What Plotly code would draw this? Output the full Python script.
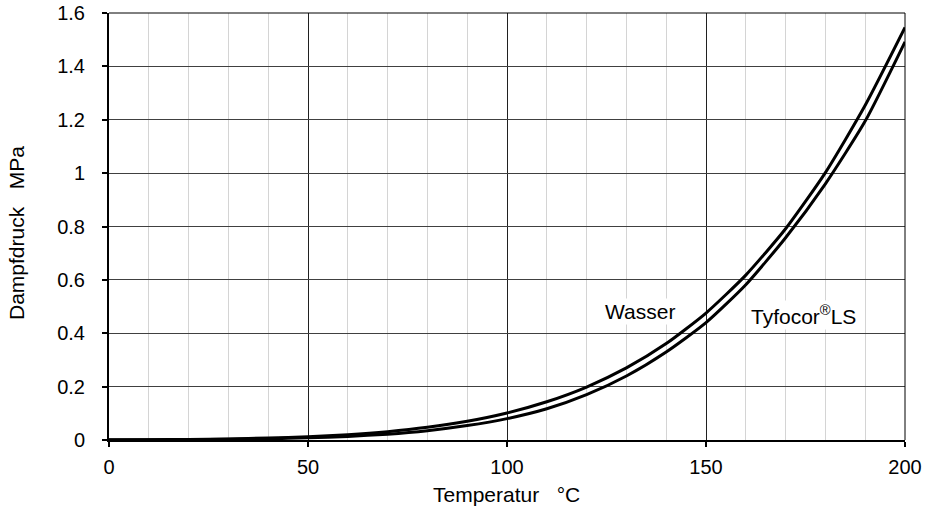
import plotly.graph_objects as go

temperatur = [0, 10, 20, 30, 40, 50, 60, 70, 80, 90, 100,
              110, 120, 130, 140, 150, 160, 170, 180, 190, 200]
wasser = [0.0006, 0.0012, 0.0023, 0.0042, 0.0074, 0.0124, 0.0200, 0.0312,
          0.0474, 0.0701, 0.1013, 0.1433, 0.1985, 0.2701, 0.3613, 0.4758,
          0.6178, 0.7917, 1.0021, 1.2544, 1.5460]
tyfocor = [0.0003, 0.0006, 0.0012, 0.0024, 0.0045, 0.0080, 0.0135, 0.0220,
           0.0350, 0.0540, 0.0800, 0.1170, 0.1700, 0.2400, 0.3300, 0.4400,
           0.5820, 0.7580, 0.9600, 1.1950, 1.4920]

x_ticks = [0, 50, 100, 150, 200]
y_ticks = [0, 0.2, 0.4, 0.6, 0.8, 1, 1.2, 1.4, 1.6]
y_ticklabels = ["0", "0.2", "0.4", "0.6", "0.8", "1", "1.2", "1.4", "1.6"]

FONT = "Liberation Sans, Arial, sans-serif"
W, H = 927, 510
ML, MR, MT, MB = 109, 22, 13, 70

fig = go.Figure()
fig.add_trace(go.Scatter(x=temperatur, y=wasser, mode="lines", name="Wasser",
                         line=dict(color="black", width=3, shape="spline", smoothing=0.6)))
fig.add_trace(go.Scatter(x=temperatur, y=tyfocor, mode="lines", name="Tyfocor LS",
                         line=dict(color="black", width=3, shape="spline", smoothing=0.6)))

fig.add_annotation(x=133.4, y=0.481, xref="x", yref="y", text="Wasser",
                   showarrow=False, bgcolor="white",
                   font=dict(family=FONT, size=21, color="black"))
fig.add_annotation(x=174.6, y=0.469, xref="x", yref="y", text="Tyfocor<sup>®</sup>LS",
                   showarrow=False, bgcolor="white",
                   font=dict(family=FONT, size=21, color="black"))

# axis titles placed as annotations (paper coordinates from pixel positions)
pw, ph = W - ML - MR, H - MT - MB
fig.add_annotation(x=(506 - ML) / pw, y=(H - MB - 495) / ph, xref="paper", yref="paper",
                   text="Temperatur\u00a0\u00a0\u00a0°C", showarrow=False,
                   xanchor="center", yanchor="middle",
                   font=dict(family=FONT, size=21, color="black"))
fig.add_annotation(x=(16 - ML) / pw, y=(H - MB - 233) / ph, xref="paper", yref="paper",
                   text="Dampfdruck\u00a0\u00a0\u00a0MPa", showarrow=False, textangle=-90,
                   xanchor="center", yanchor="middle",
                   font=dict(family=FONT, size=21, color="black"))

# thin top and right frame
fig.add_shape(type="line", xref="paper", yref="paper", x0=0, x1=1, y0=1, y1=1,
              line=dict(color="black", width=1))
fig.add_shape(type="line", xref="paper", yref="paper", x0=1, x1=1, y0=0, y1=1,
              line=dict(color="black", width=1))

fig.update_layout(
    width=W, height=H,
    margin=dict(l=ML, r=MR, t=MT, b=MB, autoexpand=False),
    paper_bgcolor="white", plot_bgcolor="white",
    showlegend=False,
    font=dict(family=FONT, size=20, color="black"),
    xaxis=dict(
        range=[0, 200], tickvals=x_ticks, ticktext=[str(v) for v in x_ticks],
        showgrid=True, gridcolor="#202020", gridwidth=1,
        minor=dict(dtick=10, showgrid=True, gridcolor="#d4d4d4", gridwidth=1, ticks=""),
        showline=True, linecolor="black", linewidth=2,
        ticks="outside", ticklen=5, tickwidth=2, tickcolor="black",
        ticklabelstandoff=3, automargin=False,
        zeroline=False,
        tickfont=dict(size=20),
    ),
    yaxis=dict(
        range=[0, 1.6], tickvals=y_ticks, ticktext=y_ticklabels,
        showgrid=True, gridcolor="#404040", gridwidth=1,
        showline=True, linecolor="black", linewidth=2,
        ticks="outside", ticklen=5, tickwidth=2, tickcolor="black",
        ticklabelstandoff=13, zeroline=False, automargin=False,
        tickfont=dict(size=20),
    ),
)

fig.write_html("out.html", config={"displayModeBar": False},
               post_script="document.body.style.margin='0px';")
